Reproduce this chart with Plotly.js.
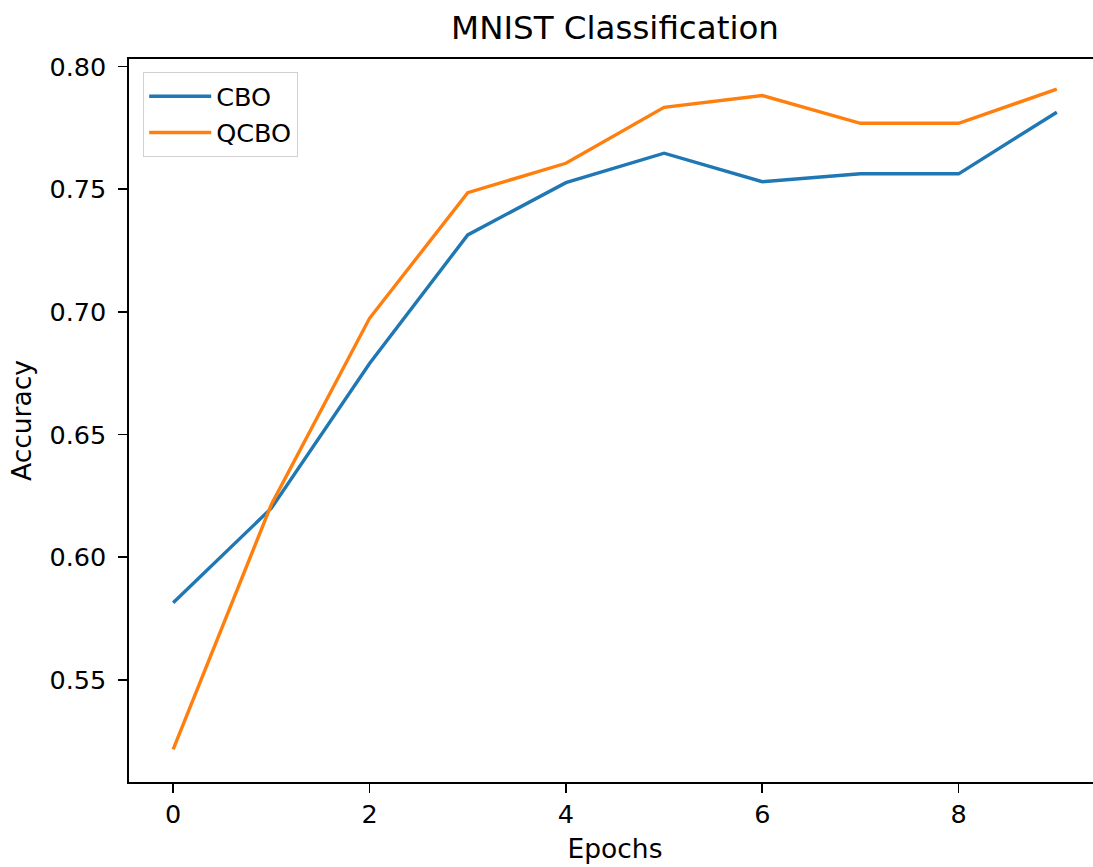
<!DOCTYPE html>
<html>
<head>
<meta charset="utf-8">
<script src="https://cdn.plot.ly/plotly-3.0.1.min.js"></script>
<style>
html,body{margin:0;padding:0;overflow:hidden;background:#fff;}
#chart{width:1110px;height:867px;}
</style>
</head>
<body>
<div id="chart"></div>
<script>
const epochs = [0, 1, 2, 3, 4, 5, 6, 7, 8, 9];
const cbo = [0.5815, 0.6200, 0.6790, 0.7314, 0.7527, 0.7647, 0.7531, 0.7563, 0.7563, 0.7814];
const qcbo = [0.5217, 0.6215, 0.6974, 0.7486, 0.7606, 0.7834, 0.7882, 0.7769, 0.7769, 0.7908];
const seriesNames = ["CBO", "QCBO"];
const xTickVals = [0, 2, 4, 6, 8];
const yTickVals = [0.55, 0.60, 0.65, 0.70, 0.75, 0.80];

const FONT = "DejaVu Sans, Verdana, sans-serif";
const traces = [
  {x: epochs, y: cbo, name: seriesNames[0], mode: "lines", type: "scatter",
   line: {color: "#1f77b4", width: 3.4}},
  {x: epochs, y: qcbo, name: seriesNames[1], mode: "lines", type: "scatter",
   line: {color: "#ff7f0e", width: 3.4}}
];
const axisCommon = {
  showline: true, mirror: true, linecolor: "#000", linewidth: 1.6,
  showgrid: false, zeroline: false,
  ticks: "outside", ticklen: 9, tickwidth: 1.6, tickcolor: "#000",
  tickfont: {family: FONT, size: 25.5, color: "#000"}
};
const layout = {
  width: 1110, height: 867,
  margin: {l: 129, r: 9, t: 59, b: 85},
  paper_bgcolor: "#fff", plot_bgcolor: "#fff",
  font: {family: FONT, color: "#000"},
  title: {text: "MNIST Classification", font: {family: FONT, size: 32.5, color: "#000"},
          xref: "paper", x: 0.5, xanchor: "center", yref: "container", y: 0.968, yanchor: "middle"},
  xaxis: Object.assign({}, axisCommon, {
    range: [-0.45, 9.45], tickvals: xTickVals, ticktext: xTickVals.map(String),
    title: {text: "Epochs", font: {family: FONT, size: 26.5, color: "#000"}, standoff: 11}
  }),
  yaxis: Object.assign({}, axisCommon, {
    range: [0.5084, 0.8031], tickvals: yTickVals, ticktext: yTickVals.map(v => v.toFixed(2)),
    ticklabelstandoff: 7,
    title: {text: "Accuracy", font: {family: FONT, size: 26.5, color: "#000"}, standoff: 10}
  }),
  showlegend: true,
  legend: {x: 0.0144, y: 0.982, xanchor: "left", yanchor: "top", itemwidth: 62,
           bgcolor: "rgba(255,255,255,0.8)", bordercolor: "#d0d0d0", borderwidth: 1.2,
           font: {family: FONT, size: 25.5, color: "#000"}, tracegroupgap: 0}
};
Plotly.newPlot("chart", traces, layout, {displayModeBar: false, staticPlot: true});
</script>
</body>
</html>
